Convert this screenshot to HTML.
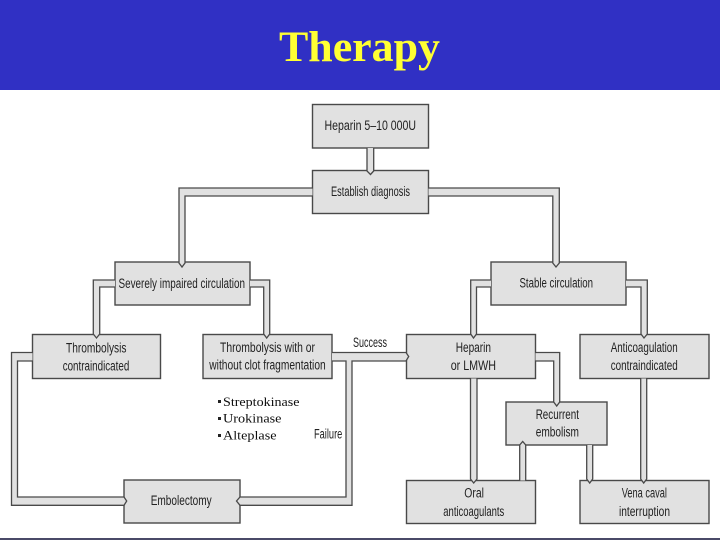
<!DOCTYPE html>
<html><head><meta charset="utf-8"><style>
html,body{margin:0;padding:0;background:#fff;width:720px;height:540px;overflow:hidden}
svg{display:block}
.b{fill:#e1e1e1;stroke:#484848;stroke-width:1.4}
.c{fill:#e1e1e1;stroke:#484848;stroke-width:1.3;stroke-linejoin:miter}
.t{font-family:"Liberation Sans",sans-serif;font-size:13.5px;fill:#222}
.s{font-family:"Liberation Serif",serif;font-size:13px;fill:#111}
</style></head><body>
<svg width="720" height="540" viewBox="0 0 720 540" xmlns="http://www.w3.org/2000/svg">
<defs><filter id="f" filterUnits="userSpaceOnUse" x="0" y="90" width="720" height="450"><feGaussianBlur stdDeviation="0.3"/></filter></defs>
<rect width="720" height="540" fill="#fff"/>
<rect width="720" height="90" fill="#3030c4"/>
<text x="279" y="61" textLength="161" lengthAdjust="spacingAndGlyphs" font-family="Liberation Serif, serif" font-weight="bold" font-size="43" fill="#ffff33">Therapy</text>
<rect y="538" width="720" height="2" fill="#4a4a68"/>

<g filter="url(#f)">
<rect class="b" x="312.5" y="104.5" width="116" height="43.5"/>
<rect class="b" x="312.5" y="170.5" width="116" height="43"/>
<rect class="b" x="115" y="262" width="135" height="43"/>
<rect class="b" x="491" y="262" width="135" height="43"/>
<rect class="b" x="32.5" y="334.5" width="128" height="44"/>
<rect class="b" x="203" y="334.5" width="129" height="44"/>
<rect class="b" x="406.5" y="334.5" width="129" height="44"/>
<rect class="b" x="580" y="334.5" width="129" height="44"/>
<rect class="b" x="506" y="402" width="101" height="43"/>
<rect class="b" x="124" y="480" width="116" height="43"/>
<rect class="b" x="406.5" y="480.5" width="129" height="43"/>
<rect class="b" x="580" y="480.5" width="129" height="43"/>

<path class="c" d="M367,148 V171 L370.5,174.5 L373.7,171 V148"/>
<path class="c" d="M312.5,188 H179 V263 L182,267 L185,263 V196 H312.5"/>
<path class="c" d="M428.5,188 H559.3 V263 L556,267 L552.8,263 V196 H428.5"/>
<path class="c" d="M115,280 H93.3 V334 L96.5,338 L99.7,334 V287 H115"/>
<path class="c" d="M250,280 H269.7 V334 L266.7,338 L263.7,334 V287 H250"/>
<path class="c" d="M491,280 H470.7 V334 L473.5,338 L476.5,334 V287 H491"/>
<path class="c" d="M626,280 H647.3 V334 L644,338 L641,334 V287 H626"/>
<path class="c" d="M32.5,352.5 H11.5 V505.3 H124 L126.7,501 L124,497 H17.5 V361 H32.5"/>
<path class="c" d="M332,352.5 H406 L408.7,356.5 L406,361 H352 V505.3 H240 L236.5,501 L240,497 H346 V361 H332"/>
<path class="c" d="M470.5,378.5 V479 L473.7,483 L477,479 V378.5"/>
<path class="c" d="M535.5,352.5 H559.7 V402 L556.7,406 L553.7,402 V361 H535.5"/>
<path class="c" d="M519.7,480.5 V445 L522.7,441.5 L525.7,445 V480.5"/>
<path class="c" d="M586.7,445 V479 L589.7,483 L592.7,479 V445"/>
<path class="c" d="M640.7,378.5 V479 L643.7,483 L646.7,479 V378.5"/>

<g class="t">
<text x="324.5" y="130" textLength="91.5" lengthAdjust="spacingAndGlyphs">Heparin 5–10 000U</text>
<text x="331" y="196" textLength="79" lengthAdjust="spacingAndGlyphs">Establish diagnosis</text>
<text x="118.5" y="288" textLength="126.5" lengthAdjust="spacingAndGlyphs">Severely impaired circulation</text>
<text x="519.5" y="287.5" textLength="73.5" lengthAdjust="spacingAndGlyphs">Stable circulation</text>
<text x="66" y="352.5" textLength="60.5" lengthAdjust="spacingAndGlyphs">Thrombolysis</text>
<text x="62.7" y="370.5" textLength="66.6" lengthAdjust="spacingAndGlyphs">contraindicated</text>
<text x="220" y="352" textLength="95" lengthAdjust="spacingAndGlyphs">Thrombolysis with or</text>
<text x="209.3" y="369.5" textLength="116.4" lengthAdjust="spacingAndGlyphs">without clot fragmentation</text>
<text x="353" y="347" textLength="34" lengthAdjust="spacingAndGlyphs">Success</text>
<text x="455.7" y="352" textLength="35.3" lengthAdjust="spacingAndGlyphs">Heparin</text>
<text x="450.7" y="370" textLength="45.3" lengthAdjust="spacingAndGlyphs">or LMWH</text>
<text x="610.7" y="352" textLength="67" lengthAdjust="spacingAndGlyphs">Anticoagulation</text>
<text x="610.7" y="370" textLength="67" lengthAdjust="spacingAndGlyphs">contraindicated</text>
<text x="535.7" y="419" textLength="43.3" lengthAdjust="spacingAndGlyphs">Recurrent</text>
<text x="535.7" y="436.5" textLength="43.3" lengthAdjust="spacingAndGlyphs">embolism</text>
<text x="464.3" y="497.5" textLength="19.7" lengthAdjust="spacingAndGlyphs">Oral</text>
<text x="443.3" y="516" textLength="61" lengthAdjust="spacingAndGlyphs">anticoagulants</text>
<text x="621.7" y="497.5" textLength="45.3" lengthAdjust="spacingAndGlyphs">Vena caval</text>
<text x="619" y="516" textLength="51" lengthAdjust="spacingAndGlyphs">interruption</text>
<text x="150.7" y="505" textLength="61" lengthAdjust="spacingAndGlyphs">Embolectomy</text>
<text x="314" y="438.5" textLength="28.3" lengthAdjust="spacingAndGlyphs">Failure</text>
</g>
<g fill="#222">
<rect x="218" y="400" width="3" height="3"/>
<rect x="218" y="417" width="3" height="3"/>
<rect x="218" y="434" width="3" height="3"/>
</g>
<g class="s">
<text x="223" y="406" textLength="76.5" lengthAdjust="spacingAndGlyphs">Streptokinase</text>
<text x="223" y="422.5" textLength="58.5" lengthAdjust="spacingAndGlyphs">Urokinase</text>
<text x="223" y="439.5" textLength="53.5" lengthAdjust="spacingAndGlyphs">Alteplase</text>
</g>
</g>
</svg>
</body></html>
